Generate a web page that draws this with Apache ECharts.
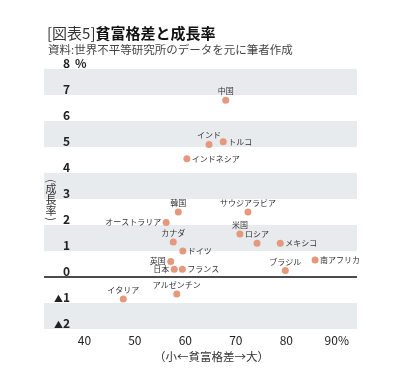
<!DOCTYPE html>
<html>
<head>
<meta charset="utf-8">
<script src="https://cdn.jsdelivr.net/npm/echarts@6/dist/echarts.min.js"></script>
<style>
  html, body { margin: 0; padding: 0; background: #fff; }
  #chart { width: 403px; height: 390px; }
</style>
</head>
<body>
<div id="chart"></div>
<script>
// data: x = 貧富格差 (%), y = 成長率 (%)
const countries = ['中国', 'インド', 'トルコ', 'インドネシア', '韓国', 'サウジアラビア', 'オーストラリア',
  'カナダ', '米国', 'ロシア', 'メキシコ', 'ドイツ', '英国', '日本', 'フランス', 'ブラジル', '南アフリカ',
  'イタリア', 'アルゼンチン'];
const inequality = [68.0, 64.7, 67.5, 60.3, 58.6, 72.4, 56.2, 57.6, 70.8, 74.2, 78.8, 59.5, 57.1, 57.8, 59.4, 79.8, 85.7, 47.7, 58.3];
const growth = [6.8, 5.1, 5.2, 4.55, 2.5, 2.5, 2.1, 1.35, 1.65, 1.3, 1.3, 1.0, 0.6, 0.3, 0.3, 0.25, 0.65, -0.85, -0.65];
const xTickLabels = [40, 50, 60, 70, 80, 90];

// vertical y-axis title, one glyph per row (brackets get turned sideways)
const yTitleChars = ['(', '成', '長', '率', ')'];

// where each name sits relative to its dot
const labelSide = {
  'トルコ': 'right', 'インドネシア': 'right', 'メキシコ': 'right', 'ドイツ': 'right',
  'フランス': 'right', '南アフリカ': 'right',
  'オーストラリア': 'left', '英国': 'left', '日本': 'left'
};

const FONT = '"Noto Sans CJK JP", "Noto Sans", sans-serif';
const BAND = '#e8ebee';

const chart = echarts.init(document.getElementById('chart'));

const points = countries.map((name, i) => ({
  name: name,
  value: [inequality[i], growth[i]],
  label: { position: labelSide[name] || 'top' }
}));

// row centres of the vertical title
const yTitleRows = [181, 189, 200, 211, 219];
const yTitle = yTitleChars.map((ch, i) => ({
  type: 'text', x: 51, y: yTitleRows[i], z: 100,
  rotation: (ch === '(' || ch === ')') ? -Math.PI / 2 : 0,
  style: { text: ch, font: '11px ' + FONT, align: 'center', verticalAlign: 'middle', fill: '#333' }
}));

chart.setOption({
  animation: false,
  backgroundColor: '#fff',
  title: [
    {
      left: 42, top: 21,
      text: '{a|[図表5]}{b|貧富格差と成長率}',
      textStyle: {
        rich: {
          a: { fontFamily: FONT, fontSize: 15, color: '#333', fontWeight: 'normal' },
          b: { fontFamily: FONT, fontSize: 15, color: '#111', fontWeight: 'bold' }
        }
      }
    },
    {
      left: 43, top: 39,
      text: '資料:世界不平等研究所のデータを元に筆者作成',
      textStyle: { fontFamily: FONT, fontSize: 11.5, color: '#444', fontWeight: 'normal' }
    }
  ],
  graphic: [
    {
      type: 'text', left: 75, top: 57, z: 100,
      style: { text: '%', font: 'bold 12px ' + FONT, fill: '#222' }
    }
  ].concat(yTitle),
  grid: { left: 44, right: 46, top: 69, bottom: 61 },
  xAxis: {
    type: 'value',
    min: 32, max: 94, interval: 2,
    name: '（小←貧富格差→大）',
    nameLocation: 'middle',
    nameGap: 19,
    nameTextStyle: { fontFamily: FONT, fontSize: 11.5, color: '#333', padding: [0, 0, 0, 22] },
    axisLine: { show: false },
    axisTick: { show: false },
    splitLine: { show: false },
    axisLabel: {
      interval: 0,
      margin: 5,
      fontFamily: FONT, fontSize: 12, color: '#222',
      formatter: v => xTickLabels.includes(v) ? (v === 90 ? '90%' : String(v)) : ''
    }
  },
  yAxis: {
    type: 'value',
    min: -2, max: 8, interval: 1,
    axisLine: { show: false },
    axisTick: { show: false },
    splitLine: { show: false },
    splitArea: {
      show: true,
      areaStyle: { color: [BAND, '#fff', '#fff', BAND, '#fff', BAND, '#fff', BAND, '#fff', BAND] }
    },
    axisLabel: {
      margin: -26,
      align: 'right',
      verticalAlign: 'bottom',
      fontFamily: FONT, fontSize: 12, fontWeight: 'bold', color: '#222',
      formatter: v => v < 0 ? '{t|▲}' + (-v) : String(v),
      rich: {
        t: { fontFamily: FONT, fontSize: 9, color: '#222', verticalAlign: 'bottom' }
      }
    }
  },
  series: [{
    type: 'scatter',
    symbolSize: 7,
    itemStyle: { color: '#e5987c', opacity: 1 },
    label: {
      show: true,
      distance: 1.5,
      fontFamily: FONT, fontSize: 8, color: '#333',
      formatter: p => p.name
    },
    data: points,
    markLine: {
      silent: true,
      symbol: 'none',
      label: { show: false },
      lineStyle: { color: '#111', width: 1.5, type: 'solid' },
      data: [{ yAxis: 0 }]
    }
  }]
});
</script>
</body>
</html>
